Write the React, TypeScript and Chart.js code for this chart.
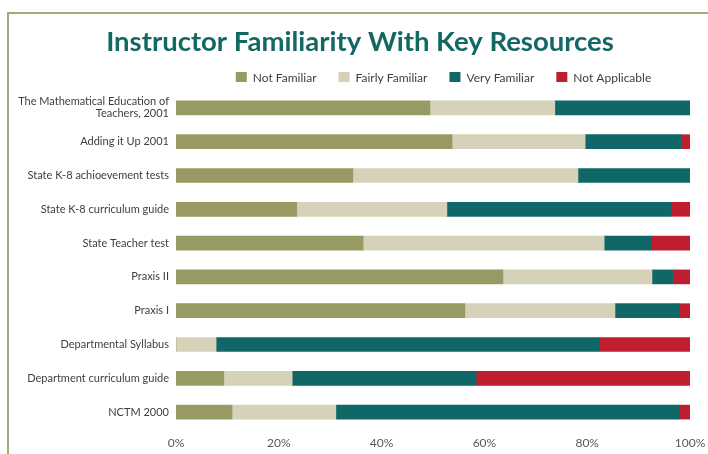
import React, { useEffect, useRef } from "react";
import { Chart, registerables } from "chart.js";

Chart.register(...registerables);

const categories: (string | string[])[] = [
  ["The Mathematical Education of", "Teachers, 2001"],
  "Adding it Up 2001",
  "State K-8 achioevement tests",
  "State K-8 curriculum guide",
  "State Teacher test",
  "Praxis II",
  "Praxis I",
  "Departmental Syllabus",
  "Department curriculum guide",
  "NCTM 2000",
];

const notFamiliar = [49.4, 53.7, 34.4, 23.5, 36.4, 63.6, 56.2, 0, 9.3, 10.9];
const fairlyFamiliar = [24.3, 25.9, 43.8, 29.2, 46.9, 29.0, 29.2, 7.8, 13.3, 20.2];
const veryFamiliar = [26.3, 18.6, 21.8, 43.6, 9.1, 4.2, 12.6, 74.6, 35.8, 66.9];
const notApplicable = [0, 1.8, 0, 3.7, 7.6, 3.2, 2.0, 17.6, 41.6, 2.0];

const xTicks = [0, 20, 40, 60, 80, 100];

const FONT = "Lato, 'DejaVu Sans', sans-serif";

const customLegend = {
  id: "customLegend",
  afterDraw(chart: any) {
    const ctx = chart.ctx as CanvasRenderingContext2D;
    const datasets = chart.data.datasets;
    const box = 10;
    const gapText = 7;
    const gapItem = 22;
    ctx.save();
    ctx.font = `12px ${FONT}`;
    const widths = datasets.map((d: any) => ctx.measureText(d.label).width);
    const total =
      widths.reduce((a: number, w: number) => a + box + gapText + w, 0) + gapItem * (datasets.length - 1);
    const cx = 443.5;
    const cy = 77.5;
    let x = cx - total / 2;
    ctx.textBaseline = "middle";
    ctx.textAlign = "left";
    datasets.forEach((d: any, i: number) => {
      ctx.fillStyle = d.backgroundColor;
      ctx.fillRect(x, cy - box / 2 - 0.5, box + 1, box);
      x += box + gapText;
      ctx.fillStyle = "#404040";
      ctx.fillText(d.label, x, cy + 0.5);
      x += widths[i] + gapItem;
    });
    ctx.restore();
  },
};

export default function App() {
  const ref = useRef<HTMLCanvasElement | null>(null);

  useEffect(() => {
    if (!ref.current) return;
    const chart = new Chart(ref.current, {
      type: "bar",
      data: {
        labels: categories,
        datasets: [
          { label: "Not Familiar", data: notFamiliar, backgroundColor: "#989a63" },
          { label: "Fairly Familiar", data: fairlyFamiliar, backgroundColor: "#d6d2b9" },
          { label: "Very Familiar", data: veryFamiliar, backgroundColor: "#106767" },
          { label: "Not Applicable", data: notApplicable, backgroundColor: "#be1e2d" },
        ],
      },
      plugins: [customLegend],
      options: {
        indexAxis: "y",
        responsive: false,
        animation: false,
        maintainAspectRatio: false,
        datasets: { bar: { barThickness: 14 } },
        layout: { padding: { left: 12, right: 0, top: 26, bottom: 5 } },
        plugins: {
          title: {
            display: true,
            text: "Instructor Familiarity With Key Resources",
            color: "#136863",
            font: { family: FONT, size: 27.5, weight: "bold", lineHeight: 1.2 },
            padding: { top: 0, bottom: 32 },
          },
          legend: { display: false },
          tooltip: { enabled: false },
        },
        scales: {
          x: {
            stacked: true,
            min: 0,
            max: 100,
            afterBuildTicks: (scale: any) => {
              scale.ticks = xTicks.map((v) => ({ value: v }));
            },
            afterFit: (scale: any) => {
              scale.paddingRight = 18;
              scale.height = 20;
            },
            ticks: {
              color: "#595959",
              font: { family: FONT, size: 12 },
              padding: 7,
              callback: (v: any) => v + "%",
            },
            grid: { display: false, drawTicks: false },
            border: { display: false },
          },
          y: {
            stacked: true,
            afterFit: (scale: any) => {
              scale.width = 164;
            },
            ticks: {
              color: "#404040",
              font: { family: FONT, size: 11, lineHeight: 1.1 },
              padding: 7,
            },
            grid: { display: false, drawTicks: false },
            border: { display: false },
          },
        },
      },
    });
    return () => chart.destroy();
  }, []);

  return (
    <div style={{ position: "fixed", left: 0, top: 0, width: 708, height: 454, background: "#fff" }}>
      <canvas ref={ref} width={708} height={454} style={{ position: "absolute", left: 0, top: 0 }} />
      <div
        style={{
          position: "absolute",
          left: 7,
          top: 12,
          right: 0,
          bottom: 0,
          borderTop: "2px solid #a2aa76",
          borderLeft: "2px solid #a2aa76",
          pointerEvents: "none",
        }}
      />
    </div>
  );
}
